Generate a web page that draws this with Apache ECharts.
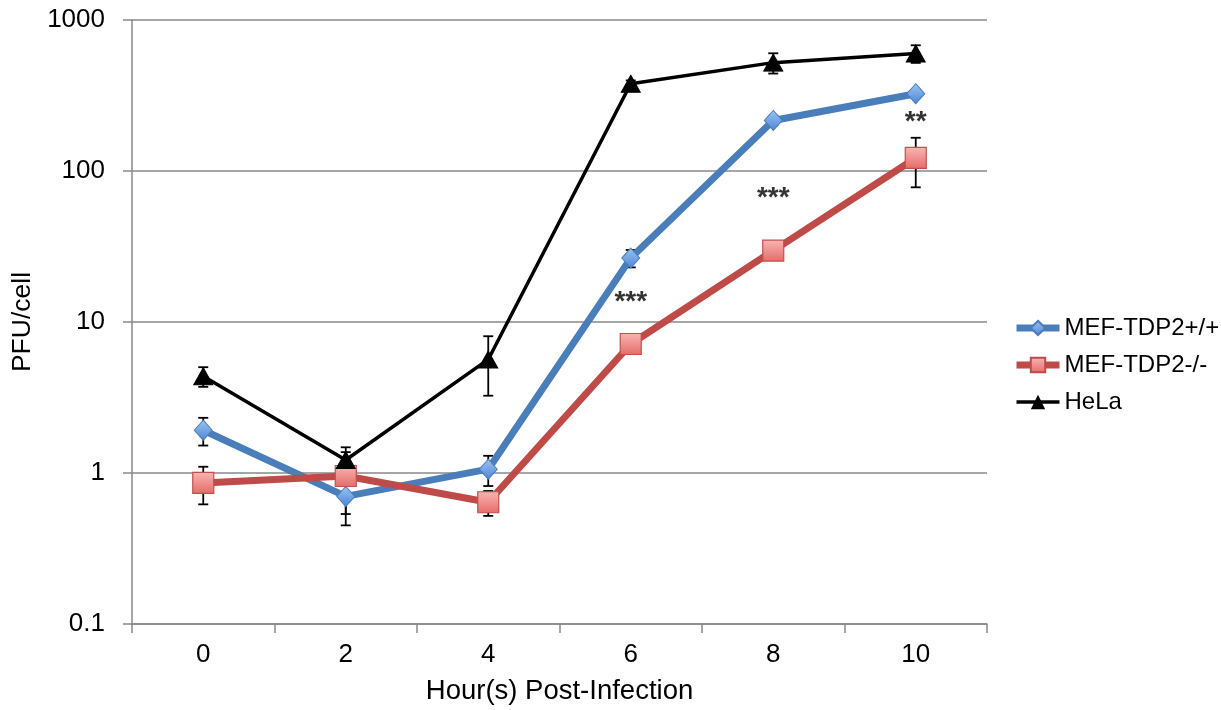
<!DOCTYPE html>
<html>
<head>
<meta charset="utf-8">
<script src="https://cdn.jsdelivr.net/npm/echarts@6/dist/echarts.min.js"></script>
<style>
html,body{margin:0;padding:0;background:#fff;}
#chart{width:1221px;height:710px;}
</style>
</head>
<body>
<div id="chart"></div>
<script>
// ---- data ----
const categories = ['0', '2', '4', '6', '8', '10'];
const seriesNames = ['MEF-TDP2+/+', 'MEF-TDP2-/-', 'HeLa'];
const wtValues = [1.92, 0.70, 1.06, 26.5, 216, 325];
const wtErrors = [0.40, 0.25, 0.24, 3.5, 15, 20];
const koValues = [0.86, 0.955, 0.64, 7.15, 29.7, 122];
const koErrors = [0.24, 0.42, 0.12, 0.5, 2, 44];
const helaValues = [4.37, 1.22, 5.65, 378, 522, 600];
const helaErrors = [0.65, 0.26, 2.4, 20, 80, 80];
const yTickLabels = ['0.1', '1', '10', '100', '1000'];
const starCategories = ['6', '8', '10'];
const starValues = [14.5, 71.6, 227];
const starTexts = ['***', '***', '**'];

const FONT = 'Arial, "Liberation Sans", sans-serif';

const wtColor = '#4a7ebb', koColor = '#be4b48';
const wtFill = new echarts.graphic.LinearGradient(0, 0, 0, 1, [
  { offset: 0, color: '#9cc3f2' }, { offset: 1, color: '#4d86d6' }
]);
const koFill = new echarts.graphic.LinearGradient(0, 0, 0, 1, [
  { offset: 0, color: '#f9b6b4' }, { offset: 1, color: '#e56b68' }
]);

function errData(vals, errs) {
  return vals.map((v, i) => [i, Math.max(v - errs[i], 0.0001), v + errs[i]]);
}
function errSeries(name, vals, errs) {
  return {
    type: 'custom',
    name: name + '_err',
    z: 1,
    silent: true,
    data: errData(vals, errs),
    renderItem: function (params, api) {
      const lo = api.coord([api.value(0), api.value(1)]);
      const hi = api.coord([api.value(0), api.value(2)]);
      const hw = 5;
      const style = { stroke: '#000', lineWidth: 1.8 };
      return {
        type: 'group',
        children: [
          { type: 'line', shape: { x1: lo[0], y1: lo[1], x2: hi[0], y2: hi[1] }, style: style },
          { type: 'line', shape: { x1: lo[0] - hw, y1: lo[1], x2: lo[0] + hw, y2: lo[1] }, style: style },
          { type: 'line', shape: { x1: hi[0] - hw, y1: hi[1], x2: hi[0] + hw, y2: hi[1] }, style: style }
        ]
      };
    }
  };
}

const chart = echarts.init(document.getElementById('chart'), null, { renderer: 'canvas' });

const option = {
  backgroundColor: '#fff',
  animation: false,
  grid: { left: 132, right: 234, top: 20, bottom: 86, containLabel: false },
  legend: {
    orient: 'vertical',
    left: 1008,
    top: 311,
    itemWidth: 43,
    itemHeight: 18,
    itemGap: 13,
    data: [
      { name: seriesNames[0], lineStyle: { width: 7, color: wtColor }, itemStyle: { color: wtFill, borderColor: wtColor } },
      { name: seriesNames[1], lineStyle: { width: 7, color: koColor }, itemStyle: { color: koFill, borderColor: koColor } },
      { name: seriesNames[2], lineStyle: { width: 3.5, color: '#000' }, itemStyle: { color: '#000' } }
    ],
    textStyle: { fontFamily: FONT, fontSize: 24, color: '#000' }
  },
  xAxis: {
    type: 'category',
    data: categories,
    boundaryGap: true,
    name: 'Hour(s) Post-Infection',
    nameLocation: 'middle',
    nameGap: 53,
    nameTextStyle: { fontFamily: FONT, fontSize: 27.5, color: '#000' },
    axisLine: { lineStyle: { color: '#898989', width: 1.5 } },
    axisTick: { show: true, length: 9, lineStyle: { color: '#898989', width: 1.5 } },
    axisLabel: { fontFamily: FONT, fontSize: 26, color: '#000', margin: 18 },
    splitLine: { show: false }
  },
  yAxis: {
    type: 'log',
    logBase: 10,
    min: 0.1,
    max: 1000,
    name: 'PFU/cell',
    nameLocation: 'middle',
    nameGap: 95,
    nameRotate: 90,
    nameTextStyle: { fontFamily: FONT, fontSize: 26.5, color: '#000' },
    axisLine: { show: true, lineStyle: { color: '#898989', width: 1.5 } },
    axisTick: { show: true, length: 9, lineStyle: { color: '#898989', width: 1.5 } },
    axisLabel: {
      fontFamily: FONT, fontSize: 26, color: '#000', margin: 27,
      formatter: function (v) {
        const idx = Math.round(Math.log10(v)) + 1;
        return yTickLabels[idx] !== undefined ? yTickLabels[idx] : '';
      }
    },
    splitLine: { show: true, lineStyle: { color: '#898989', width: 1.5 } }
  },
  series: [
    errSeries(seriesNames[0], wtValues, wtErrors),
    errSeries(seriesNames[1], koValues, koErrors),
    errSeries(seriesNames[2], helaValues, helaErrors),
    {
      type: 'line',
      name: seriesNames[0],
      data: wtValues,
      z: 3,
      symbol: 'diamond',
      symbolSize: [18, 20],
      lineStyle: { color: wtColor, width: 7 },
      itemStyle: { color: wtFill, borderColor: wtColor, borderWidth: 1 }
    },
    {
      type: 'line',
      name: seriesNames[1],
      data: koValues,
      z: 4,
      symbol: 'rect',
      symbolSize: 21,
      lineStyle: { color: koColor, width: 7 },
      itemStyle: { color: koFill, borderColor: '#c0504d', borderWidth: 1.2 }
    },
    {
      type: 'line',
      name: seriesNames[2],
      data: helaValues,
      z: 5,
      symbol: 'triangle',
      symbolSize: [19, 17],
      lineStyle: { color: '#000', width: 3.5 },
      itemStyle: { color: '#000', borderColor: '#000' }
    },
    {
      type: 'scatter',
      name: 'stars',
      z: 6,
      silent: true,
      symbol: 'circle',
      symbolSize: 1,
      itemStyle: { color: 'rgba(0,0,0,0)' },
      data: starCategories.map((c, i) => ({ value: [c, starValues[i]], label: { formatter: starTexts[i] } })),
      label: {
        show: true, position: 'inside', offset: [0, 5],
        fontFamily: FONT, fontSize: 28, fontWeight: 'bold', color: '#000'
      }
    }
  ]
};
chart.setOption(option);
</script>
</body>
</html>
